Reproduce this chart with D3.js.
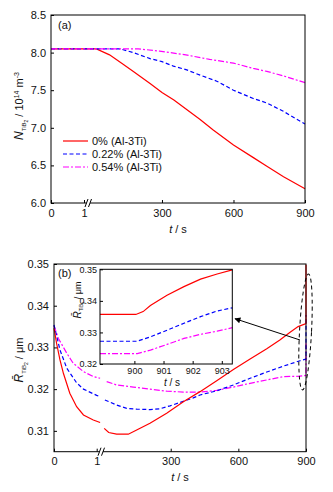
<!DOCTYPE html>
<html lang="en">
<head>
<meta charset="UTF-8">
<title>TiB2 number density and radius</title>
<script src="https://d3js.org/d3.v7.min.js"></script>
<style>
  body { margin: 0; background: #fff; }
  svg text { font-family: "Liberation Sans", Arial, sans-serif; fill: #111; }
</style>
</head>
<body>
<script>
// ---- data ----
const labels = ["0% (Al-3Ti)", "0.22% (Al-3Ti)", "0.54% (Al-3Ti)"];
const colors = ["#ff0000", "#0000ff", "#ff00ff"];
const dashes = [null, "4,2.5", "6,2,2,2"];

// panel (a): N_TiB2 / 1e14 m^-3, [t, value]; early part is t in 0..1 s
const aEarly = [[0, 8.05], [1, 8.05]];
const aRed = [[1, 8.05], [25, 8.05], [80, 7.97], [140, 7.84], [180, 7.75], [250, 7.59], [300, 7.47], [350, 7.37], [405, 7.24], [460, 7.11], [515, 6.97], [600, 6.77], [685, 6.6], [740, 6.49], [810, 6.35], [900, 6.19]];
const aBlue = [[1, 8.05], [124, 8.05], [180, 8.0], [250, 7.92], [300, 7.88], [348, 7.82], [404, 7.77], [460, 7.7], [530, 7.62], [600, 7.5], [683, 7.39], [740, 7.33], [809, 7.22], [900, 7.05]];
const aMag = [[1, 8.05], [200, 8.05], [290, 8.02], [400, 7.97], [500, 7.91], [600, 7.86], [683, 7.79], [740, 7.75], [810, 7.69], [900, 7.6]];

// panel (b): mean radius / um
const bRedEarly = [[0, 0.3346], [0.02, 0.3335], [0.06, 0.331], [0.14, 0.327], [0.22, 0.3238], [0.37, 0.319], [0.53, 0.3158], [0.69, 0.3138], [0.92, 0.3126], [1.08, 0.312]];
const bBlueEarly = [[0, 0.3354], [0.14, 0.3294], [0.3, 0.325], [0.53, 0.3215], [0.69, 0.32], [1.0, 0.3185], [1.08, 0.3182]];
const bMagEarly = [[0, 0.3352], [0.1, 0.3322], [0.3, 0.3286], [0.45, 0.3262], [0.69, 0.3242], [0.92, 0.323], [1.08, 0.3226]];
const bRed = [[5, 0.3106], [25, 0.3096], [60, 0.3092], [112, 0.3092], [149, 0.3102], [208, 0.3118], [282, 0.3142], [356, 0.317], [430, 0.3194], [504, 0.322], [578, 0.3247], [652, 0.3272], [726, 0.3297], [784, 0.3318], [828, 0.3336], [865, 0.335], [900, 0.3357]];
const bBlue = [[8, 0.3174], [60, 0.3162], [105, 0.3154], [149, 0.3152], [208, 0.3151], [252, 0.3153], [297, 0.316], [341, 0.3168], [400, 0.3179], [430, 0.3186], [504, 0.3196], [578, 0.321], [652, 0.3226], [726, 0.3241], [799, 0.3255], [873, 0.3268], [900, 0.3272]];
const bMag = [[16, 0.3218], [60, 0.321], [134, 0.3205], [208, 0.32], [282, 0.3195], [356, 0.3193], [430, 0.3193], [504, 0.3197], [578, 0.3205], [652, 0.3214], [726, 0.3222], [799, 0.323], [873, 0.3231], [900, 0.3233]];

// inset: 898.8 .. 903.4 s
const insRed = [[898.82, 0.3357], [900.05, 0.3357], [900.3, 0.3366], [900.55, 0.3385], [900.84, 0.3402], [901.12, 0.3418], [901.7, 0.3445], [902.27, 0.3469], [902.84, 0.3485], [903.36, 0.3498]];
const insBlue = [[898.82, 0.3272], [900.08, 0.3272], [900.55, 0.3286], [901.12, 0.3307], [901.7, 0.3329], [902.27, 0.335], [902.84, 0.3368], [903.36, 0.3378]];
const insMag = [[898.82, 0.3233], [900.1, 0.3233], [900.55, 0.3244], [901.12, 0.3262], [901.7, 0.3281], [902.27, 0.3294], [902.84, 0.3304], [903.36, 0.3315]];

const aTicksY = [6.0, 6.5, 7.0, 7.5, 8.0, 8.5];
const bTicksY = [0.31, 0.32, 0.33, 0.34, 0.35];
const insTicksY = [0.32, 0.33, 0.34, 0.35];
const insTicksX = [900, 901, 902, 903];
const xTicksEarly = [0, 1];
const xTicksLate = [300, 600, 900];

const W = 333, H = 492;
const svg = d3.select("body").append("svg").attr("width", W).attr("height", H);

function brokenAxis(g, x1, x2, y, bottomY) {
  // tick marks + labels for the two x segments
  g.append("g").attr("transform", `translate(0,${bottomY})`)
    .call(d3.axisBottom(x1).tickValues(xTicksEarly).tickSizeInner(-3).tickSizeOuter(0).tickPadding(6).tickFormat(d3.format("d")));
  g.append("g").attr("transform", `translate(0,${bottomY})`)
    .call(d3.axisBottom(x2).tickValues(xTicksLate).tickSizeInner(-3).tickSizeOuter(0).tickPadding(6).tickFormat(d3.format("d")));
  g.selectAll(".domain").remove();
}

function styleAxis(sel, fs) {
  sel.selectAll("text").style("font-size", fs + "px").attr("fill", "#111");
  sel.selectAll("line").attr("stroke", "#000");
}

function breakMark(g, xb, yb) {
  g.append("rect").attr("x", xb - 1.5).attr("y", yb - 2).attr("width", 3.5).attr("height", 4).attr("fill", "#fff");
  [0, 3.5].forEach(o => {
    g.append("line").attr("x1", xb - 3 + o).attr("y1", yb + 4).attr("x2", xb + o).attr("y2", yb - 4)
      .attr("stroke", "#000").attr("stroke-width", 1);
  });
}

// ================= panel (a) =================
const xA1 = d3.scaleLinear().domain([0, 1]).range([51, 84]);
const xA2 = d3.scaleLinear().domain([1, 900]).range([90.7, 305]);
const yA = d3.scaleLinear().domain([6, 8.5]).range([203, 15]);

const ga = svg.append("g");
const lineA = d3.line().x(d => d[0]).y(d => d[1]);
[aRed, aBlue, aMag].forEach((s, i) => {
  const pts = aEarly.map(d => [xA1(d[0]), yA(d[1])]).concat(s.map(d => [xA2(d[0]), yA(d[1])]));
  ga.append("path").attr("d", lineA(pts)).attr("fill", "none")
    .attr("stroke", colors[i]).attr("stroke-width", 1.2)
    .attr("stroke-dasharray", dashes[i]);
});

ga.append("rect").attr("x", 51).attr("y", 15).attr("width", 254).attr("height", 188)
  .attr("fill", "none").attr("stroke", "#000").attr("stroke-width", 1);

const ayAx = ga.append("g").attr("transform", "translate(51,0)")
  .call(d3.axisLeft(yA).tickValues(aTicksY).tickSizeInner(-3).tickSizeOuter(0).tickPadding(5).tickFormat(d3.format(".1f")));
ayAx.select(".domain").remove();
styleAxis(ayAx, 11);
const axA = ga.append("g");
brokenAxis(axA, xA1, xA2, yA, 203);
styleAxis(axA, 11);
breakMark(ga, 88, 203);

ga.append("text").attr("x", 58).attr("y", 29).style("font-size", "11px").text("(a)");
ga.append("text").attr("x", 178).attr("y", 233).attr("text-anchor", "middle").style("font-size", "11px")
  .call(t => {
    t.append("tspan").style("font-style", "italic").text("t");
    t.append("tspan").text(" / s");
  });

// y label (a)
const yla = ga.append("text").attr("transform", "translate(23,106) rotate(-90)")
  .attr("text-anchor", "middle").style("font-size", "11px");
yla.append("tspan").style("font-style", "italic").style("font-size", "12px").text("N");
yla.append("tspan").attr("dy", 3).style("font-size", "6px").text("TiB");
yla.append("tspan").attr("dy", 1.5).style("font-size", "5px").text("2");
yla.append("tspan").attr("dy", -4.5).text(" / 10");
yla.append("tspan").attr("dy", -4).style("font-size", "7px").text("14");
yla.append("tspan").attr("dy", 4).text(" m");
yla.append("tspan").attr("dy", -4).style("font-size", "7px").text("-3");

// legend
const legY = [141, 154, 167];
labels.forEach((lab, i) => {
  ga.append("line").attr("x1", 63).attr("x2", 88).attr("y1", legY[i]).attr("y2", legY[i])
    .attr("stroke", colors[i]).attr("stroke-width", 1.2).attr("stroke-dasharray", dashes[i]);
  ga.append("text").attr("x", 92).attr("y", legY[i] + 4).style("font-size", "11px").text(lab);
});

// ================= panel (b) =================
const xB1 = d3.scaleLinear().domain([0, 1]).range([54, 96.7]);
const xB2 = d3.scaleLinear().domain([1, 900]).range([103.3, 306]).clamp(true);
const yB = d3.scaleLinear().domain([0.305, 0.35]).range([451.7, 264]);

const gb = svg.append("g");
const lineB1 = d3.line().x(d => xB1(d[0])).y(d => yB(d[1]));
const lineB2 = d3.line().x(d => xB2(d[0])).y(d => yB(d[1]));
const early = [bRedEarly, bBlueEarly, bMagEarly];
const late = [bRed.concat(insRed.filter(d => d[0] > 900)),
              bBlue.concat(insBlue.filter(d => d[0] > 900)),
              bMag.concat(insMag.filter(d => d[0] > 900))];
[2, 1, 0].forEach(i => {
  gb.append("path").attr("d", lineB1(early[i])).attr("fill", "none")
    .attr("stroke", colors[i]).attr("stroke-width", 1.2).attr("stroke-dasharray", dashes[i]);
  gb.append("path").attr("d", lineB2(late[i])).attr("fill", "none")
    .attr("stroke", colors[i]).attr("stroke-width", 1.2).attr("stroke-dasharray", dashes[i]);
});

gb.append("rect").attr("x", 54).attr("y", 264).attr("width", 252).attr("height", 187.7)
  .attr("fill", "none").attr("stroke", "#000").attr("stroke-width", 1);

const byAx = gb.append("g").attr("transform", "translate(54,0)")
  .call(d3.axisLeft(yB).tickValues(bTicksY).tickSizeInner(-3).tickSizeOuter(0).tickPadding(5).tickFormat(d3.format(".2f")));
byAx.select(".domain").remove();
styleAxis(byAx, 11);
const axB = gb.append("g");
brokenAxis(axB, xB1, xB2, yB, 451.7);
styleAxis(axB, 11);
breakMark(gb, 101, 451.7);

gb.append("text").attr("x", 58).attr("y", 277).style("font-size", "11px").text("(b)");
gb.append("text").attr("x", 180).attr("y", 481).attr("text-anchor", "middle").style("font-size", "11px")
  .call(t => {
    t.append("tspan").style("font-style", "italic").text("t");
    t.append("tspan").text(" / s");
  });

function radiusLabel(g, x, y, fs) {
  const t = g.append("text").attr("transform", `translate(${x},${y}) rotate(-90)`)
    .attr("text-anchor", "middle").style("font-size", fs + "px");
  t.append("tspan").style("font-style", "italic").style("font-size", (fs + 1) + "px").text("R\u0304");
  t.append("tspan").attr("dy", fs * 0.27).style("font-size", (fs * 0.55) + "px").text("TiB");
  t.append("tspan").attr("dy", fs * 0.14).style("font-size", (fs * 0.45) + "px").text("2");
  t.append("tspan").attr("dy", -fs * 0.41).text(" / \u03bcm");
}
radiusLabel(gb, 23, 360, 11);

// dashed ellipse around the end of the curves + arrow to inset
gb.append("ellipse").attr("cx", 305.5).attr("cy", 332).attr("rx", 6).attr("ry", 58)
  .attr("transform", "rotate(3,305.5,332)")
  .attr("fill", "none").attr("stroke", "#000").attr("stroke-width", 1).attr("stroke-dasharray", "4,3");

svg.append("defs").append("marker").attr("id", "arr").attr("viewBox", "0 0 10 10")
  .attr("refX", 9).attr("refY", 5).attr("markerWidth", 9).attr("markerHeight", 6)
  .attr("orient", "auto").attr("markerUnits", "userSpaceOnUse")
  .append("path").attr("d", "M0,0 L10,5 L0,10 Z").attr("fill", "#000");
gb.append("line").attr("x1", 300).attr("y1", 340).attr("x2", 235).attr("y2", 318.7)
  .attr("stroke", "#000").attr("stroke-width", 1).attr("marker-end", "url(#arr)");

// ================= inset =================
const xI = d3.scaleLinear().domain([898.82, 903.36]).range([100, 232.3]);
const yI = d3.scaleLinear().domain([0.32, 0.35]).range([364, 269.3]);
const gi = svg.append("g");
gi.append("rect").attr("x", 100).attr("y", 269.3).attr("width", 132.3).attr("height", 94.7).attr("fill", "#fff");
const lineI = d3.line().x(d => xI(d[0])).y(d => yI(d[1]));
[insRed, insBlue, insMag].forEach((s, i) => {
  gi.append("path").attr("d", lineI(s)).attr("fill", "none")
    .attr("stroke", colors[i]).attr("stroke-width", 1.2).attr("stroke-dasharray", dashes[i]);
});
gi.append("rect").attr("x", 100).attr("y", 269.3).attr("width", 132.3).attr("height", 94.7)
  .attr("fill", "none").attr("stroke", "#000").attr("stroke-width", 1);
const iy = gi.append("g").attr("transform", "translate(100,0)")
  .call(d3.axisLeft(yI).tickValues(insTicksY).tickSizeInner(-3).tickSizeOuter(0).tickPadding(3).tickFormat(d3.format(".2f")));
iy.select(".domain").remove();
styleAxis(iy, 9);
const ix = gi.append("g").attr("transform", "translate(0,364)")
  .call(d3.axisBottom(xI).tickValues(insTicksX).tickSizeInner(-3).tickSizeOuter(0).tickPadding(4).tickFormat(d3.format("d")));
ix.select(".domain").remove();
styleAxis(ix, 9);
gi.append("text").attr("x", 172).attr("y", 385.5).attr("text-anchor", "middle").style("font-size", "10px")
  .call(t => {
    t.append("tspan").style("font-style", "italic").text("t");
    t.append("tspan").text(" / s");
  });
radiusLabel(gi, 81, 300, 9);
</script>
</body>
</html>
